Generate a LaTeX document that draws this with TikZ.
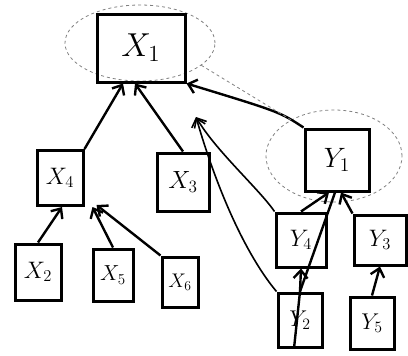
\documentclass[tikz,border=0pt]{standalone}
\usepackage{graphicx}
\usetikzlibrary{arrows.meta,shapes.geometric}
\newcommand{\mylab}[2]{\scalebox{#1}{$#2$}}
\begin{document}
\begin{tikzpicture}[x=1pt,y=-1pt,
  vbox/.style={draw,line width=3pt,minimum width=#1,inner sep=0pt,font=\huge},
  edge/.style={line width=2.4pt,-{Straight Barb[length=8pt,width=14pt]}},
  plain/.style={line width=2.4pt},
  grp/.style={draw=gray,line width=0.8pt,dashed}]
\useasboundingbox (0,0) rectangle (408,356);
% groups
\node[grp,ellipse,minimum width=150,minimum height=76,inner sep=0pt] (E1) at (140,43) {};
\node[grp,ellipse,minimum width=136,minimum height=92,inner sep=0pt] (E2) at (334,156) {};
% left tree
\node[vbox=88,minimum height=68] (X1) at (141,48) {\mylab{1.6}{X_1}};
\node[vbox=46,minimum height=55] (X4) at (60,178) {\mylab{1.15}{X_4}};
\node[vbox=52,minimum height=58] (X3) at (183,182) {\mylab{1.2}{X_3}};
\node[vbox=46,minimum height=56] (X2) at (38,272) {\mylab{1.15}{X_2}};
\node[vbox=40,minimum height=52] (X5) at (113,275) {\mylab{1.05}{X_5}};
\node[vbox=36,minimum height=50] (X6) at (180,282) {\mylab{0.95}{X_6}};
% right tree
\node[vbox=64,minimum height=62] (Y1) at (337,160) {\mylab{1.35}{Y_1}};
\node[vbox=50,minimum height=54] (Y4) at (301,240) {\mylab{1.15}{Y_4}};
\node[vbox=52,minimum height=50] (Y3) at (380,240) {\mylab{1.15}{Y_3}};
\node[vbox=44,minimum height=54] (Y2) at (300,320) {\mylab{1.1}{Y_2}};
\node[vbox=44,minimum height=52] (Y5) at (372,323) {\mylab{1.1}{Y_5}};
\coordinate (p) at (196,117);
% edges left
\draw[edge] (X4.north east) -- ([xshift=-18]X1.south);
\draw[edge] (X3.north) -- ([xshift=-6]X1.south);
\draw[edge] (X2.north) -- ([xshift=2]X4.south);
\draw[edge] (X5.north) -- ([xshift=8]X4.south east);
\draw[edge] (X6.north west) -- ([xshift=12,yshift=2]X4.south east);
% edges right
\draw[edge] (Y1.north west) .. controls (280,112) .. (X1.south east);
\draw[grp] (E2.140) -- (E1.-20);
\draw[plain,line width=1.6pt,-{Straight Barb[length=8pt,width=14pt]}] (Y4.north west) .. controls (260,190) and (215,150) .. (p);
\draw[plain,line width=1.6pt,-{Straight Barb[length=8pt,width=14pt]}] (Y2.north west) .. controls (250,260) and (220,200) .. (p);
\draw[edge] (Y4.north) -- ([xshift=-8]Y1.south);
\draw[edge] (Y2.north) -- (Y4.south);
\draw[plain] ([xshift=-6]Y2.south) -- (Y2.north) -- ([xshift=-2]Y1.south);
\draw[edge] (Y3.north west) -- ([xshift=4]Y1.south);
\draw[edge] (Y5.north) -- (Y3.south);
\end{tikzpicture}
\end{document}
